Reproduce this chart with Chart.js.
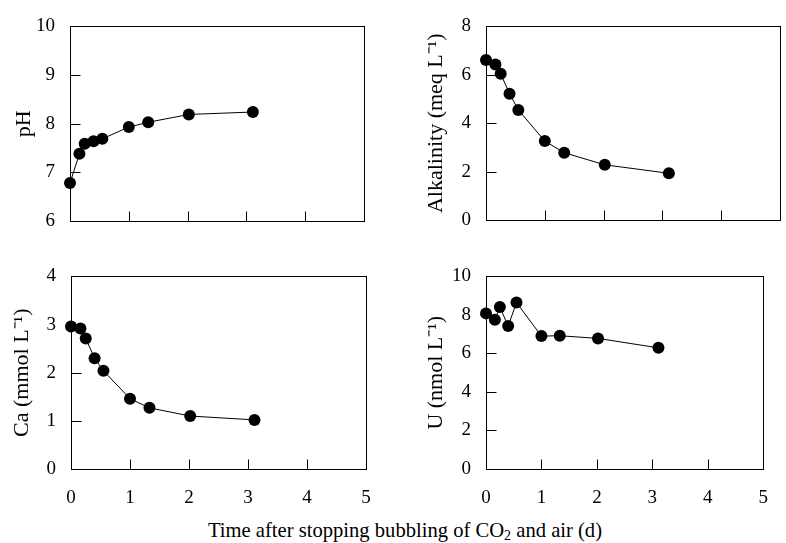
<!DOCTYPE html>
<html>
<head>
<meta charset="utf-8">
<script src="https://cdn.jsdelivr.net/npm/chart.js@4.4.0/dist/chart.umd.min.js"></script>
<style>
  html, body { margin: 0; padding: 0; background: #fff; overflow: hidden; }
  #wrap { position: relative; width: 786px; height: 543px; }
  .panel { position: absolute; }
  #xtitle {
    position: absolute; left: 0; top: 520px; width: 810px;
    text-align: center; white-space: nowrap; color: #000;
    font: 20.6px/20px 'Liberation Serif', 'Times New Roman', serif;
  }
</style>
</head>
<body>
<div id="wrap">
  <canvas id="phChart" class="panel" width="393" height="250" style="left:0;top:0"></canvas>
  <canvas id="alkChart" class="panel" width="393" height="250" style="left:393px;top:0"></canvas>
  <canvas id="caChart" class="panel" width="393" height="262" style="left:0;top:250px"></canvas>
  <canvas id="uChart" class="panel" width="393" height="262" style="left:393px;top:250px"></canvas>
  <div id="xtitle">Time after stopping bubbling of CO<sub style="font-size:14px;vertical-align:-3px">2</sub> and air (d)</div>
</div>
<script>
// time after stopping bubbling (d)
const times = [0, 0.16, 0.25, 0.4, 0.55, 1.0, 1.33, 2.02, 3.11];

const phValues = [6.78, 7.38, 7.59, 7.64, 7.69, 7.93, 8.03, 8.19, 8.24];
const alkalinityValues = [6.61, 6.43, 6.04, 5.22, 4.55, 3.26, 2.78, 2.28, 1.93];
const caValues = [2.96, 2.92, 2.71, 2.30, 2.04, 1.46, 1.27, 1.10, 1.02];
const uValues = [8.08, 7.75, 8.41, 7.42, 8.64, 6.90, 6.92, 6.78, 6.29];

const xTicks = [0, 1, 2, 3, 4, 5];
const phTicks = [6, 7, 8, 9, 10];
const alkalinityTicks = [0, 2, 4, 6, 8];
const caTicks = [0, 1, 2, 3, 4];
const uTicks = [0, 2, 4, 6, 8, 10];

const FONT = "'Liberation Serif', 'Times New Roman', serif";
const TITLE_SIZE = 22;

// box round the plot area and short inward tick marks
const frameAndTicks = {
  id: 'frameAndTicks',
  beforeDatasetsDraw(chart) {
    const { ctx, chartArea: a, scales: { x, y } } = chart;
    const left = Math.round(a.left) + 0.5;
    const top = Math.round(a.top) + 0.5;
    const right = Math.round(a.right) + 0.5;
    const bottom = Math.round(a.bottom) + 0.5;
    ctx.save();
    ctx.strokeStyle = '#000';
    ctx.lineWidth = 1;
    ctx.strokeRect(left, top, right - left, bottom - top);
    ctx.beginPath();
    x.ticks.forEach(t => {
      const px = Math.round(x.getPixelForValue(t.value)) + 0.5;
      ctx.moveTo(px, bottom);
      ctx.lineTo(px, bottom - 10);
    });
    y.ticks.forEach(t => {
      const py = Math.round(y.getPixelForValue(t.value)) + 0.5;
      ctx.moveTo(left, py);
      ctx.lineTo(left + 10, py);
    });
    ctx.stroke();
    ctx.restore();
  }
};

function makePanel(id, values, yTicks, title, opts) {
  const points = times.map((t, i) => ({ x: t, y: values[i] }));
  return new Chart(document.getElementById(id), {
    type: 'line',
    data: {
      datasets: [{
        data: points,
        borderColor: '#000',
        borderWidth: 1,
        pointRadius: 6,
        pointBackgroundColor: '#000',
        pointBorderWidth: 0,
        tension: 0,
        clip: false
      }]
    },
    options: {
      responsive: false,
      animation: false,
      events: [],
      layout: { padding: { left: 0, top: opts.top, right: opts.right, bottom: 0 } },
      plugins: { legend: { display: false }, tooltip: { enabled: false } },
      scales: {
        x: {
          type: 'linear',
          min: 0,
          max: 5,
          grid: { display: false, drawTicks: false },
          border: { display: false },
          ticks: {
            display: opts.xLabels,
            color: '#000',
            padding: 18,
            font: { family: FONT, size: 19 }
          },
          afterBuildTicks(scale) { scale.ticks = xTicks.map(v => ({ value: v })); },
          afterFit(scale) { scale.height = opts.xHeight; }
        },
        y: {
          type: 'linear',
          min: yTicks[0],
          max: yTicks[yTicks.length - 1],
          grid: { display: false, drawTicks: false },
          border: { display: false },
          ticks: {
            color: '#000',
            padding: 15,
            font: { family: FONT, size: 19 }
          },
          title: {
            display: true,
            text: title,
            color: '#000',
            font: { family: FONT, size: TITLE_SIZE },
            padding: { top: opts.titleOffset - TITLE_SIZE * 0.6, bottom: 0 }
          },
          afterBuildTicks(scale) { scale.ticks = yTicks.map(v => ({ value: v })); },
          afterFit(scale) { scale.width = opts.yWidth; }
        }
      }
    },
    plugins: [frameAndTicks]
  });
}

makePanel('phChart', phValues, phTicks, 'pH',
  { yWidth: 70, top: 23, right: 29, xHeight: 29, titleOffset: 24, xLabels: false });
makePanel('alkChart', alkalinityValues, alkalinityTicks, 'Alkalinity (meq L\u207B\u00B9)',
  { yWidth: 93, top: 23, right: 5, xHeight: 30, titleOffset: 43, xLabels: false });
makePanel('caChart', caValues, caTicks, 'Ca (mmol L\u207B\u00B9)',
  { yWidth: 71, top: 22, right: 27, xHeight: 43, titleOffset: 22, xLabels: true });
makePanel('uChart', uValues, uTicks, 'U (nmol L\u207B\u00B9)',
  { yWidth: 93, top: 22, right: 5, xHeight: 43, titleOffset: 43, xLabels: true });
</script>
</body>
</html>
